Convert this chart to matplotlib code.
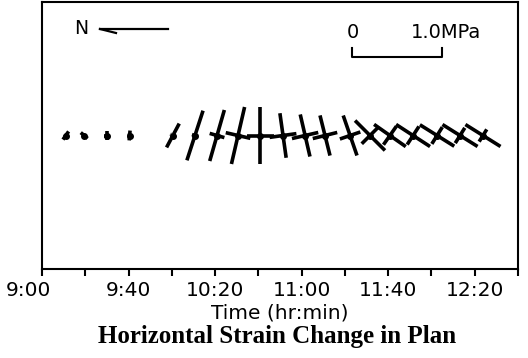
import matplotlib.pyplot as plt
import matplotlib.transforms as mtransforms
import numpy as np

# glyph data
times = [11, 19.5, 30, 40.5, 60.5, 70.7, 80.9, 90.6, 100.8, 111.4, 121.6,
         130.8, 142.4, 151.6, 160.8, 171.5, 182.6, 193.2, 203.8]  # minutes after 9:00
major = [0.11, 0.10, 0.09, 0.11, 0.30, 0.58, 0.59, 0.65, 0.64, 0.50, 0.48,
         0.46, 0.47, 0.47, 0.43, 0.45, 0.45, 0.46, 0.46]  # MPa
minor = [0.03, 0.03, 0.07, 0.05, 0.07, 0.07, 0.17, 0.28, 0.30, 0.30, 0.30,
         0.28, 0.24, 0.26, 0.25, 0.24, 0.22, 0.20, 0.16]  # MPa
angle = [55, 140, 90, 85, 62, 72, 74, 77, 90, 98, 103,
         104, 109, 135, 145, 147, 148, 148, 148]  # deg, major axis
minor_color = ["black"] * 4 + ["#8a8a8a"] + ["black"] * 14

tick_minutes = np.arange(0, 221, 20)
tick_labels = ["9:00", "", "9:40", "", "10:20", "", "11:00", "", "11:40", "", "12:20", ""]

W, H, DPI = 528, 358, 100
fig = plt.figure(figsize=(W / DPI, H / DPI), dpi=DPI)
ax_l, ax_r, ax_t, ax_b = 42, 518, 2, 269
ax = fig.add_axes([ax_l / W, 1 - ax_b / H, (ax_r - ax_l) / W, (ax_b - ax_t) / H])

# equal pixel scale in x and y
px_per_unit = (ax_r - ax_l) / 220
half_h = (ax_b - ax_t) / px_per_unit / 2
ax.set_xlim(0, 220)
ax.set_ylim(-half_h, half_h)
mpa = 90 / px_per_unit  # 1.0 MPa = 90 px

for t, a, b, th, mc in zip(times, major, minor, angle, minor_color):
    r = np.deg2rad(th)
    dx, dy = a * mpa / 2 * np.cos(r), a * mpa / 2 * np.sin(r)
    ax.plot([t - dx, t + dx], [-dy, dy], color="black", lw=2.6,
            solid_capstyle="butt")
    ex, ey = b * mpa / 2 * np.cos(r + np.pi / 2), b * mpa / 2 * np.sin(r + np.pi / 2)
    ax.plot([t - ex, t + ex], [-ey, ey], color=mc, lw=2.6,
            solid_capstyle="butt")
    ax.plot(t, 0, "o", color="black", ms=4)


def px(x, y):
    return (x - ax_l) / px_per_unit, half_h - (y - ax_t) / px_per_unit


# north arrow
ax.text(*px(81, 28), "N", ha="center", va="center", fontsize=13.5)
ax.plot(*zip(px(168, 29), px(100, 29)), color="black", lw=1.6)
ax.plot(*zip(px(100, 29), px(116, 33)), color="black", lw=1.6)

# scale bar
x0, y0 = px(352, 57)
ax.plot([x0, x0, x0 + mpa, x0 + mpa], [y0 + 4, y0, y0, y0 + 4],
        color="black", lw=1.5)
ax.text(*px(353, 33), "0", ha="center", va="center", fontsize=14)
ax.text(*px(411, 33), "1.0MPa", ha="left", va="center", fontsize=14)

ax.set_xticks(tick_minutes)
ax.set_xticklabels(tick_labels, fontsize=14.5)
ax.set_yticks([])
ax.tick_params(axis="x", direction="out", length=5, width=1.5, pad=4)
for s in ax.spines.values():
    s.set_linewidth(1.5)
first = ax.get_xticklabels()[0]
first.set_transform(first.get_transform() +
                    mtransforms.ScaledTranslation(-0.14, 0, fig.dpi_scale_trans))

fig.text(0.5 * (ax_l + ax_r) / W, 1 - 313 / H, "Time (hr:min)",
         ha="center", va="center", fontsize=14.5)
fig.text(277 / W, 1 - 336 / H,
         "Horizontal Strain Change in Plan", ha="center", va="center",
         fontsize=18, fontweight="bold", family="Liberation Serif")

fig.savefig("out.png", dpi=DPI)
